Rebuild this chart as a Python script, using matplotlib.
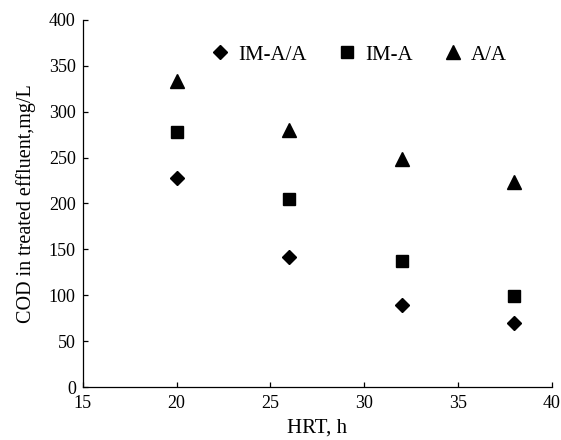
import matplotlib
matplotlib.use("Agg")
from matplotlib import pyplot as plt

hrt = [20, 26, 32, 38]
im_aa = [228, 142, 89, 70]
im_a = [278, 205, 137, 99]
aa = [333, 280, 249, 223]

plt.rcParams['font.family'] = ['Liberation Serif', 'DejaVu Serif']

fig = plt.figure(figsize=(5.61, 4.40), dpi=100)
ax = fig.add_axes([82.7 / 561, 53 / 440, 469 / 561, 367 / 440])

ax.plot(hrt, im_aa, linestyle='none', marker='D', markersize=7, color='black', label='IM-A/A')
ax.plot(hrt, im_a, linestyle='none', marker='s', markersize=8.5, color='black', label='IM-A')
ax.plot(hrt, aa, linestyle='none', marker='^', markersize=10, color='black', label='A/A')

ax.set_xlim(15, 40)
ax.set_ylim(0, 400)
ax.set_xticks(range(15, 41, 5))
ax.set_yticks(range(0, 401, 50))
ax.spines['top'].set_visible(False)
ax.spines['right'].set_visible(False)
for s in ['left', 'bottom']:
    ax.spines[s].set_linewidth(0.9)
ax.tick_params(direction='in', length=3.5, width=0.9, labelsize=13)
ax.tick_params(axis='x', pad=5.5)
ax.tick_params(axis='y', pad=5)

ax.set_xlabel('HRT, h', fontsize=15, labelpad=5)
ax.set_ylabel('COD in treated effluent,mg/L', fontsize=14.5, labelpad=9)

fig.legend(loc='center left', bbox_to_anchor=(210 / 561, (440 - 55) / 440), ncol=3,
           frameon=False, fontsize=15, numpoints=1, handlelength=1.0,
           handletextpad=0.35, columnspacing=1.45, borderpad=0, borderaxespad=0)

fig.savefig('out.png', dpi=100)
